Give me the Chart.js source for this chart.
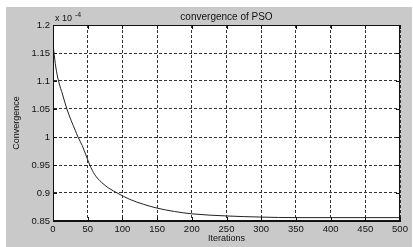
<!DOCTYPE html>
<html>
<head>
<meta charset="utf-8">
<script src="https://cdn.jsdelivr.net/npm/chart.js@4"></script>
<style>
  html, body { margin: 0; padding: 0; background: #fff; }
  canvas { display: block; }
</style>
</head>
<body>
<canvas id="psoChart" width="413" height="247"></canvas>
<script>
// convergence curve (values in units of 1e-4)
const iterations = [0, 1, 4, 8, 14, 20, 26, 32, 36, 42, 48, 53, 60, 70, 80, 94, 110, 130, 150, 175, 200, 250, 300, 350, 400, 450, 500];
const convergence = [1.166, 1.155, 1.125, 1.10, 1.075, 1.05, 1.03, 1.012, 1.0, 0.985, 0.966, 0.95, 0.933, 0.919, 0.909, 0.899, 0.889, 0.880, 0.873, 0.867, 0.8628, 0.859, 0.857, 0.856, 0.856, 0.856, 0.856];
const xTicks = [0, 50, 100, 150, 200, 250, 300, 350, 400, 450, 500];
const yTicks = [0.85, 0.9, 0.95, 1, 1.05, 1.1, 1.15, 1.2];

const FONT = 'Liberation Sans, Arial, sans-serif';
const GRAY = '#c9c9c9';

const figure = {
  id: 'figure',
  beforeDraw(chart) {
    const ctx = chart.ctx;
    ctx.save();
    ctx.fillStyle = '#fff';
    ctx.fillRect(0, 0, chart.width, chart.height);
    ctx.fillStyle = GRAY;
    ctx.fillRect(6, 7, chart.width - 7, chart.height - 7);
    const a = chart.chartArea;
    ctx.fillStyle = '#fff';
    ctx.fillRect(a.left, a.top, a.right - a.left, a.bottom - a.top);
    ctx.restore();
  },
  afterDraw(chart) {
    const ctx = chart.ctx;
    const a = chart.chartArea;
    const xs = chart.scales.x, ys = chart.scales.y;
    ctx.save();
    ctx.strokeStyle = '#111';
    ctx.lineWidth = 1;
    ctx.strokeRect(a.left + 0.5, a.top + 0.5, a.right - a.left - 1, a.bottom - a.top - 1);
    // inward tick marks on all four sides
    ctx.beginPath();
    xTicks.forEach(v => {
      const px = Math.round(xs.getPixelForValue(v)) + 0.5;
      ctx.moveTo(px, a.bottom); ctx.lineTo(px, a.bottom - 4);
      ctx.moveTo(px, a.top); ctx.lineTo(px, a.top + 4);
    });
    yTicks.forEach(v => {
      const py = Math.round(ys.getPixelForValue(v)) + 0.5;
      ctx.moveTo(a.left, py); ctx.lineTo(a.left + 4, py);
      ctx.moveTo(a.right, py); ctx.lineTo(a.right - 4, py);
    });
    ctx.stroke();

    ctx.fillStyle = '#111';
    ctx.textBaseline = 'middle';
    ctx.textAlign = 'center';
    ctx.font = '10px ' + FONT;
    ctx.fillText('convergence of PSO', (a.left + a.right) / 2, 17);
    ctx.textAlign = 'left';
    ctx.font = '9px ' + FONT;
    ctx.fillText('x 10', a.left + 2, 19);
    ctx.font = '7px ' + FONT;
    ctx.fillText('-4', a.left + 22, 15);
    ctx.restore();
  }
};

new Chart(document.getElementById('psoChart'), {
  type: 'line',
  data: {
    datasets: [{
      data: iterations.map((x, i) => ({ x: x, y: convergence[i] })),
      borderColor: '#222',
      borderWidth: 1,
      pointRadius: 0,
      cubicInterpolationMode: 'monotone',
      fill: false,
    }],
  },
  options: {
    responsive: false,
    animation: false,
    layout: { padding: { left: 6, right: 13, top: 25, bottom: 3 } },
    plugins: { legend: { display: false }, tooltip: { enabled: false } },
    scales: {
      x: {
        type: 'linear',
        min: 0,
        max: 500,
        afterBuildTicks: (s) => { s.ticks = xTicks.map(v => ({ value: v })); },
        afterFit: (s) => { s.height = 23; },
        ticks: { color: '#111', font: { family: FONT, size: 9.5 }, padding: 3, maxRotation: 0 },
        grid: { color: '#333', lineWidth: 1, drawTicks: false },
        border: { color: '#111', dash: [3, 2] },
        title: { display: true, text: 'Iterations', color: '#111', font: { family: FONT, size: 9 }, padding: { top: 0, bottom: 0 } },
      },
      y: {
        min: 0.85,
        max: 1.2,
        afterBuildTicks: (s) => { s.ticks = yTicks.map(v => ({ value: v })); },
        afterFit: (s) => { s.width = 47; },
        ticks: {
          color: '#111',
          font: { family: FONT, size: 9.5 },
          padding: 3,
          callback: (v) => String(Number(v.toFixed(2))),
        },
        grid: { color: '#333', lineWidth: 1, drawTicks: false },
        border: { color: '#111', dash: [3, 2] },
        title: { display: true, text: 'Convergence', color: '#111', font: { family: FONT, size: 9 }, padding: { top: 5, bottom: 0 } },
      },
    },
  },
  plugins: [figure],
});
</script>
</body>
</html>
